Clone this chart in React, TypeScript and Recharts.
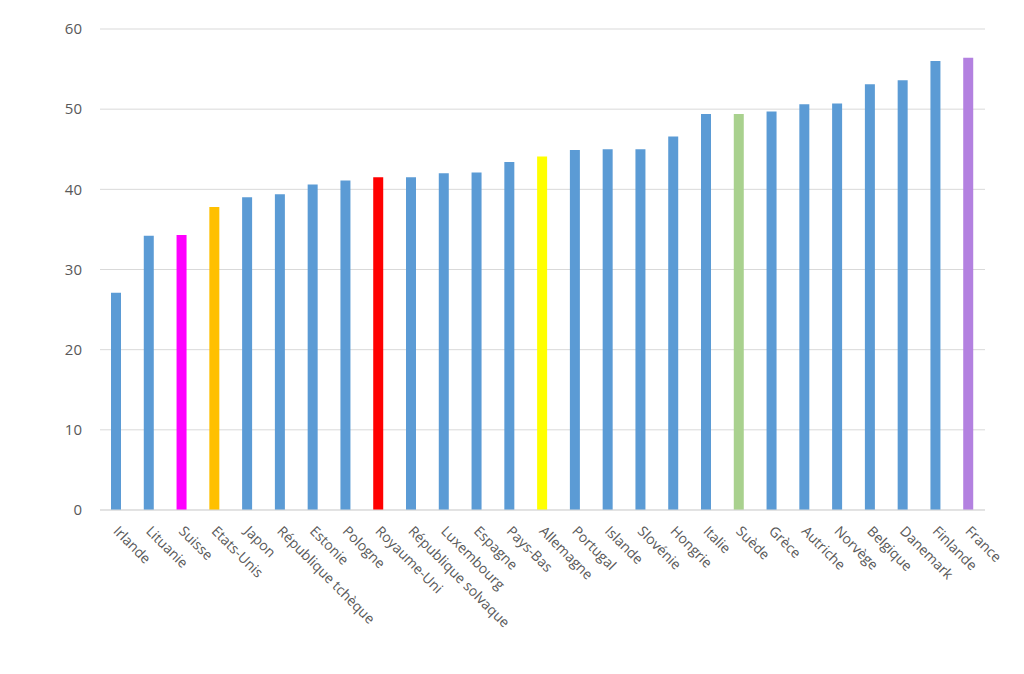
import React from 'react';
import { BarChart, Bar, XAxis, YAxis, CartesianGrid, Cell } from 'recharts';

const countries = ['Irlande','Lituanie','Suisse','Etats-Unis','Japon','République tchèque','Estonie','Pologne','Royaume-Uni','République solvaque','Luxembourg','Espagne','Pays-Bas','Allemagne','Portugal','Islande','Slovénie','Hongrie','Italie','Suède','Grèce','Autriche','Norvège','Belgique','Danemark','Finlande','France'];
const values = [27.1,34.2,34.3,37.8,39.0,39.4,40.6,41.1,41.5,41.5,42.0,42.1,43.4,44.1,44.9,45.0,45.0,46.6,49.4,49.4,49.7,50.6,50.7,53.1,53.6,56.0,56.4];
const highlight: Record<string, string> = {
  'Suisse': '#FF00FF', 'Etats-Unis': '#FFC000', 'Royaume-Uni': '#FF0000',
  'Allemagne': '#FFFF00', 'Suède': '#A9D18E', 'France': '#B381E0',
};
const yTicks = [0, 10, 20, 30, 40, 50, 60];
const data = countries.map((c, i) => ({ name: c, value: values[i] }));

const Tick = (props: any) => {
  const { x, y, payload } = props;
  return (
    <g transform={`translate(${x - 4},${y + 14}) rotate(45)`}>
      <text x={0} y={0} textAnchor="start" fill="#595959" fontSize={14} fontFamily="Open Sans, Liberation Sans, sans-serif">{payload.value}</text>
    </g>
  );
};

export default function App() {
  return (
    <div style={{ position: 'absolute', left: 0, top: 0, width: 1024, height: 674, background: '#fff' }}>
      <BarChart width={1024} height={674} data={data} margin={{ top: 29, right: 39, left: 0, bottom: 0 }} barCategoryGap="0%">
        <CartesianGrid vertical={false} stroke="#D9D9D9" />
        <XAxis dataKey="name" interval={0} tick={<Tick />} height={164} tickLine={false} axisLine={{ stroke: '#D9D9D9' }} />
        <YAxis domain={[0, 60]} ticks={yTicks} width={100} axisLine={false} tickLine={false}
          tick={{ fill: '#595959', fontSize: 15, fontFamily: 'Open Sans, Liberation Sans, sans-serif' }} tickMargin={12} />
        <Bar dataKey="value" barSize={10} isAnimationActive={false}>
          {data.map((d) => <Cell key={d.name} fill={highlight[d.name] || '#5B9BD5'} />)}
        </Bar>
      </BarChart>
    </div>
  );
}
